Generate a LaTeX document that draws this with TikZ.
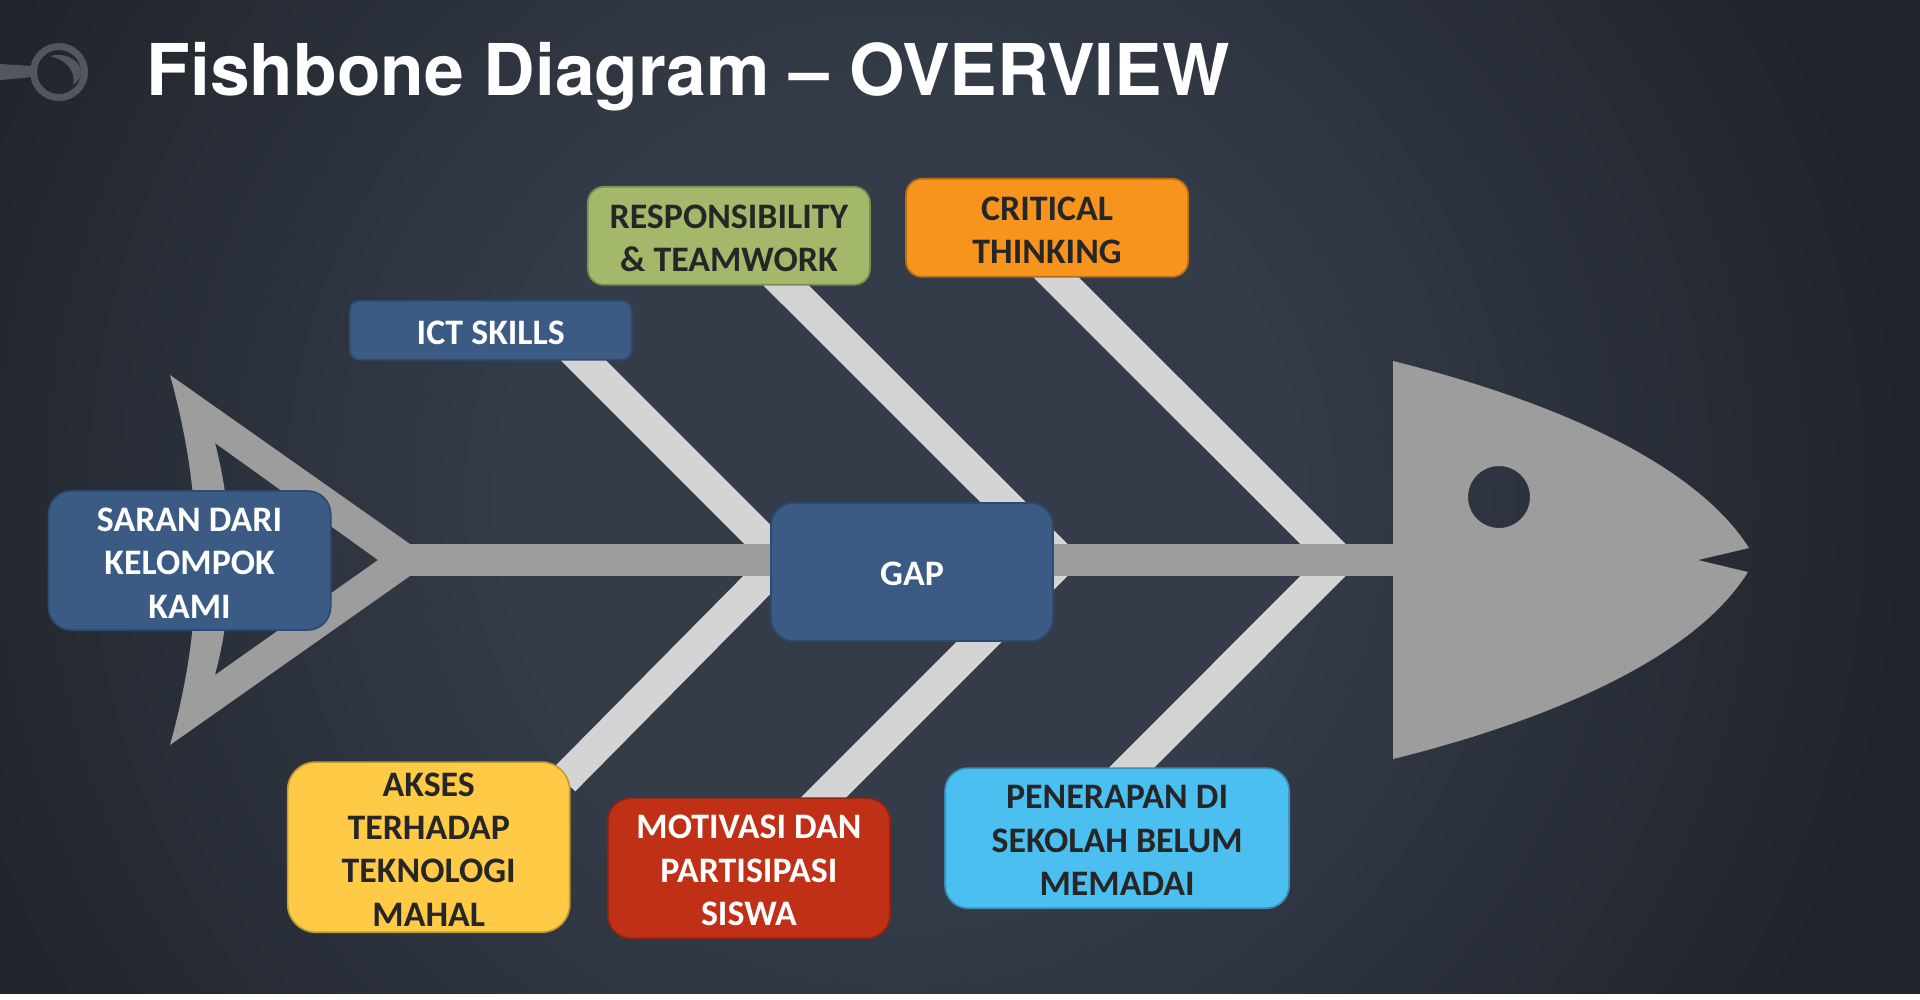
\documentclass[tikz,border=0pt]{standalone}
\usepackage{fontspec}
\setmainfont{Carlito}
\newfontfamily\titlefont{TeX Gyre Heros}
\usetikzlibrary{positioning}
\pgfdeclarelayer{behind}
\pgfsetlayers{behind,main}
\definecolor{bgmid}{HTML}{343C49}
\definecolor{bgedge}{HTML}{20242B}
\definecolor{bonelight}{HTML}{D4D4D4}
\definecolor{bonedark}{HTML}{9D9D9D}
\definecolor{ornament}{HTML}{53575D}
\definecolor{inkdark}{HTML}{262626}
\definecolor{boxblue}{HTML}{3B5B84}
\definecolor{boxblueline}{HTML}{2D4A70}
\definecolor{boxgreen}{HTML}{A3B86B}
\definecolor{boxgreenline}{HTML}{7A8F4E}
\definecolor{boxorange}{HTML}{F7941E}
\definecolor{boxorangeline}{HTML}{B86E16}
\definecolor{boxyellow}{HTML}{FFCB47}
\definecolor{boxyellowline}{HTML}{BF9A37}
\definecolor{boxred}{HTML}{C03017}
\definecolor{boxredline}{HTML}{8F2411}
\definecolor{boxcyan}{HTML}{4BBFF0}
\definecolor{boxcyanline}{HTML}{3A8FB5}
\pgfdeclareradialshading{slidebg}{\pgfpoint{0bp}{0bp}}{color(0bp)=(bgmid); color(9bp)=(bgmid); color(23bp)=(bgedge); color(50bp)=(bgedge)}
\newcommand{\capline}{\rule{0pt}{8pt}}

\begin{document}
\begin{tikzpicture}[
  x=0.01cm, y=-0.01cm,
  box/.style={rectangle, align=center, inner sep=0pt, outer sep=0pt, line width=0.17mm, minimum width=2.82cm, font=\fontsize{10.2}{12.35}\selectfont\bfseries},
  bluebox/.style={box, fill=boxblue, draw=boxblueline, text=white},
  bone/.style={bonelight, line width=0.32cm},
  spine/.style={bonedark, line width=0.315cm}
]

% Fondo
\begin{pgfonlayer}{behind}
\fill[white] (0,0) rectangle (1920,999);
\begin{scope}
\clip (0,0) rectangle (1920,993);
\shade[shading=slidebg] (-200,-600) rectangle (2000,1600);
\end{scope}
\end{pgfonlayer}
\useasboundingbox (0,0) rectangle (1920,999);

% Centro
\node[bluebox, minimum height=1.38cm, rounded corners=0.23cm] (gap) at (912,572) {\capline GAP};

% Arriba
\node[bluebox, minimum height=0.59cm, rounded corners=0.1cm, above left=1.43cm and 1.39cm of gap] (ict) {\capline ICT SKILLS};
\node[box, fill=boxgreen, draw=boxgreenline, text=inkdark, minimum height=0.98cm, rounded corners=0.16cm, above right=0.16cm and -0.44cm of ict] (resp) {\capline RESPONSIBILITY\\\& TEAMWORK};
\node[box, fill=boxorange, draw=boxorangeline, text=inkdark, minimum height=0.98cm, rounded corners=0.16cm, right=0.36cm of resp, yshift=0.08cm] (crit) {\capline CRITICAL\\THINKING};

% Cola
\node[bluebox, minimum height=1.39cm, rounded corners=0.23cm, left=4.40cm of gap, yshift=0.115cm] (saran) {\capline SARAN DARI\\KELOMPOK\\KAMI};

% Abajo
\node[box, fill=boxyellow, draw=boxyellowline, text=inkdark, minimum height=1.70cm, rounded corners=0.28cm, below left=1.21cm and 2.01cm of gap] (akses) {\capline AKSES\\TERHADAP\\TEKNOLOGI\\MAHAL};
\node[box, fill=boxred, draw=boxredline, text=white, minimum height=1.40cm, rounded corners=0.23cm, right=0.38cm of akses, yshift=-0.21cm] (motiv) {\capline MOTIVASI DAN\\PARTISIPASI\\SISWA};
\node[box, fill=boxcyan, draw=boxcyanline, text=inkdark, minimum width=3.44cm, minimum height=1.40cm, rounded corners=0.23cm, right=0.55cm of motiv, yshift=0.30cm] (pen) {\capline PENERAPAN DI\\SEKOLAH BELUM\\MEMADAI};

% Titulo
\node[anchor=base west, inner sep=0pt, text=white, font=\fontsize{20.3}{24}\titlefont\bfseries] (judul) at (146,95) {Fishbone Diagram – OVERVIEW};

% Puntos de la espina
\coordinate (tailjoint) at (405,560);
\coordinate (headjoint) at (1395,560);
\coordinate (footict) at (783,560);
\coordinate (footakses) at (781.5,560);
\coordinate (footresp) at (1061,560);
\coordinate (footmotiv) at (1061,560);
\coordinate (footcrit) at (1339,560);
\coordinate (footpen) at (1339,560);

\begin{pgfonlayer}{behind}
% Conexiones
\draw[bone] ([xshift=0.68cm,yshift=0.24cm]ict.south) -- (footict);
\draw[bone] ([xshift=0.225cm,yshift=0.34cm]resp.south) -- (footresp);
\draw[bone] ([xshift=-0.175cm,yshift=0.26cm]crit.south) -- (footcrit);
\draw[bone] ([xshift=-0.06cm,yshift=0.67cm]akses.east) -- (footakses);
\draw[bone] ([xshift=0.41cm,yshift=-0.33cm]motiv.north) -- (footmotiv);
\draw[bone] ([xshift=-0.19cm,yshift=-0.33cm]pen.north) -- (footpen);
\draw[spine] (tailjoint) -- (headjoint);

% Pez
\fill[bonedark, even odd rule] (1393,361) .. controls (1530,395) and (1690,455) .. (1749,548) -- (1698,560) -- (1748,572) .. controls (1690,665) and (1530,725) .. (1393,759) -- cycle (1499,497) circle [radius=31];
\fill[bonedark, even odd rule] (170,375) -- (410,544) -- (410,576) -- (170,745) .. controls (205,620) and (205,500) .. (170,375) -- cycle (215,443) -- (378,560) -- (215,675) .. controls (235,600) and (235,520) .. (215,443) -- cycle;

% Adorno
\draw[ornament, line width=0.07cm] (59,72) circle [radius=25.5];
\fill[ornament] (0,64) -- (33,66) -- (33,77) -- (0,80) -- cycle;
\fill[ornament] (50,56) .. controls (74,50) and (92,72) .. (73,85) .. controls (76,70) and (66,60) .. (50,56) -- cycle;
\end{pgfonlayer}

\end{tikzpicture}
\end{document}
